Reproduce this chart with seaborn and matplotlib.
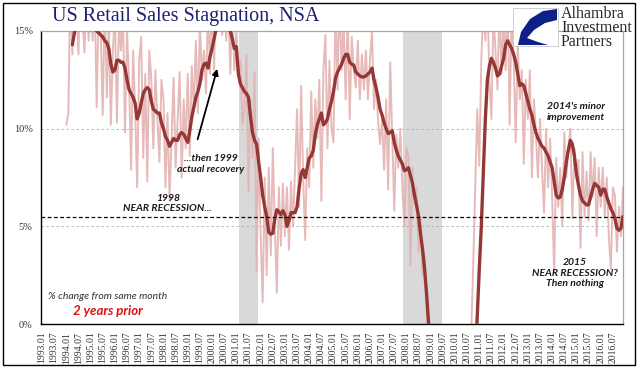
import numpy as np
import pandas as pd
import matplotlib.pyplot as plt
import matplotlib.patches as mpatches
import seaborn as sns

# ================= DATA =================
# % change from same month 2 years prior, monthly, NSA
raw_start = "1994.01"
raw_growth = [
    10.2, 10.8, 17.5, 13.8, 17.0, 16.5, 13.8, 18.0, 15.5, 13.9, 17.5, 14.5,   # 1994
    16.8, 14.5, 17.0, 11.1, 16.5, 15.0, 10.7, 16.8, 11.6, 15.5, 10.2, 14.0,   # 1995
    16.0, 10.3, 15.5, 14.0, 15.8, 9.8, 15.0, 12.5, 7.9, 14.0, 11.0, 7.0,      # 1996
    13.5, 14.7, 8.5, 12.8, 7.3, 14.0, 12.5, 9.0, 13.0, 10.5, 8.3, 12.5,       # 1997
    11.5, 7.0, 10.8, 6.4, 9.5, 12.6, 8.0, 10.5, 12.9, 7.5, 11.5, 9.0,         # 1998
    12.8, 8.6, 13.2, 11.0, 14.5, 10.8, 15.5, 12.5, 14.0, 11.8, 16.5, 12.8,    # 1999
    17.0, 13.0, 18.0, 15.5, 17.5, 14.8, 18.0, 14.5, 16.8, 12.8, 16.5, 13.0,   # 2000
    15.0, 12.8, 13.5, 10.2, 11.0, 13.8, 6.8, 11.5, 8.5, 12.9, 2.7, 9.5,       # 2001
    4.5, 1.1, 7.5, 2.5, 8.0, 3.5, 9.0, 5.0, 1.6, 7.0, 4.0, 7.2,               # 2002
    4.5, 7.0, 3.8, 7.3, 5.0, 8.0, 11.0, 6.0, 12.2, 7.5, 4.3, 9.0,             # 2003
    7.0, 11.9, 8.0, 11.5, 9.5, 12.5, 6.3, 13.0, 14.8, 9.0, 13.5, 10.0,        # 2004
    9.3, 16.5, 12.0, 17.0, 13.0, 15.5, 11.5, 16.0, 10.5, 14.7, 13.0, 12.1,    # 2005
    14.5, 11.5, 13.8, 12.0, 14.0, 11.5, 13.5, 15.0, 11.0, 12.5, 10.4, 9.2,    # 2006
    10.5, 7.9, 11.5, 6.9, 13.4, 9.5, 5.8, 9.7, 8.0, 10.0, 7.0, 5.0,           # 2007
    9.0, 8.6, 3.0, 8.0, 6.1, 7.0, 3.7, 5.5, 2.5, 3.5, 0.5, -2.0,              # 2008
    -4.0, -6.0, -9.0, -10.0, -12.0, -11.0, -13.0, -12.0, -12.0, -11.0, -12.0, -10.0,  # 2009
    -9.0, -10.0, -7.0, -8.0, -5.0, -6.0, -3.0, -4.0, -0.5, 3.0, 7.1, 11.0,    # 2010
    8.1, 13.5, 16.5, 14.5, 17.0, 12.5, 10.5, 16.0, 14.0, 12.0, 16.5, 12.8,    # 2011
    16.0, 13.0, 17.0, 10.2, 16.0, 13.5, 9.3, 14.5, 11.5, 13.0, 8.2, 12.5,     # 2012
    10.5, 13.0, 7.5, 11.5, 9.7, 7.5, 10.5, 8.0, 5.7, 10.0, 7.0, 9.5,          # 2013
    6.5, 2.6, 8.5, 6.0, 8.0, 5.0, 9.8, 7.5, 9.0, 10.0, 5.4, 9.0,              # 2014
    7.5, 8.4, 3.9, 8.8, 5.5, 7.8, 5.3, 8.8, 6.5, 8.5, 4.5, 8.0,               # 2015
    6.0, 8.0, 5.5, 7.5, 4.5, 2.8, 7.0, 6.6, 3.7, 6.0, 4.5, 7.0,               # 2016
]

smooth_start = "1994.04"
smooth_growth = [
    14.3, 14.9, 15.4, 15.8, 16.0, 16.2, 16.0, 15.9, 15.7,                     # 1994 (Apr-Dec)
    15.5, 15.3, 15.2, 15.0, 14.9, 14.8, 14.7, 14.5, 14.4, 14.1, 13.3, 12.9,   # 1995
    13.0, 13.5, 13.5, 13.4, 13.4, 13.1, 12.5, 12.0, 11.8, 11.6, 11.3, 10.5,   # 1996
    10.8, 11.3, 11.8, 12.0, 12.1, 12.0, 11.4, 11.0, 10.9, 10.8, 10.8, 10.3,   # 1997
    10.0, 9.6, 9.4, 9.1, 9.3, 9.5, 9.4, 9.4, 9.7, 9.8, 9.7, 9.5,              # 1998
    9.3, 9.9, 10.6, 11.1, 11.6, 11.9, 12.3, 13.0, 13.3, 13.35, 13.1, 13.7,    # 1999
    14.1, 14.6, 15.1, 15.6, 16.0, 16.2, 16.0, 15.6, 15.2, 15.0, 14.6, 14.1,   # 2000
    14.2, 12.8, 12.3, 12.1, 11.9, 11.8, 11.6, 10.6, 9.8, 9.4, 9.2, 8.3,       # 2001
    7.5, 6.6, 6.0, 5.5, 4.7, 4.6, 4.65, 5.4, 5.85, 5.75, 5.6, 5.8,            # 2002
    5.6, 5.0, 5.3, 5.7, 5.7, 5.7, 6.0, 6.95, 7.7, 7.9, 7.5, 8.0,              # 2003
    8.5, 8.6, 8.9, 9.7, 10.2, 10.5, 10.8, 10.2, 10.3, 10.5, 11.0, 11.4,       # 2004
    11.9, 12.6, 12.9, 13.1, 13.3, 13.6, 13.8, 13.8, 13.4, 13.3, 13.25, 12.9,  # 2005
    12.8, 12.7, 12.65, 12.65, 12.7, 12.8, 12.9, 13.1, 12.5, 12.1, 11.6, 11.0, # 2006
    10.7, 10.3, 10.0, 9.75, 9.8, 9.9, 9.3, 8.9, 8.6, 8.4, 8.2, 7.85,          # 2007
    7.9, 8.0, 7.6, 7.2, 6.6, 6.1, 5.5, 4.6, 3.8, 2.8, 1.5, 0.0,               # 2008
    -1.6, -3.2, -4.8, -6.3, -7.6, -8.8, -9.8, -10.5, -11.0, -11.2, -11.0, -10.5,  # 2009
    -9.8, -9.2, -8.6, -8.0, -7.4, -6.8, -6.2, -5.6, -5.0, -4.0, -1.8, 0.4,    # 2010
    2.8, 5.0, 7.8, 10.5, 12.5, 13.2, 13.6, 13.4, 13.1, 12.7, 12.8, 13.2,      # 2011
    13.6, 14.3, 14.5, 14.3, 14.1, 13.8, 13.4, 12.8, 12.2, 12.3, 12.2, 11.8,   # 2012
    11.4, 11.0, 10.7, 10.2, 9.8, 9.5, 9.3, 9.1, 9.0, 8.8, 8.6, 8.3,           # 2013
    8.0, 7.3, 6.6, 6.45, 6.5, 6.9, 7.5, 8.3, 8.9, 9.4, 9.2, 8.6,              # 2014
    7.7, 7.1, 6.6, 6.3, 6.2, 6.1, 6.1, 6.5, 6.9, 7.2, 7.1, 7.0,               # 2015
    6.6, 6.9, 6.9, 6.5, 6.2, 5.9, 5.7, 5.4, 4.9, 4.8, 4.9, 5.5,               # 2016
]

axis_start = "1993.01"
axis_end = "2016.12"
recession_start = ["2001.03", "2007.12"]
recession_end = ["2001.11", "2009.06"]
threshold = 5.5
y_ticks = [0, 5, 10, 15]


def month_index(label):
    y, m = label.split(".")
    return (int(y) - int(axis_start[:4])) * 12 + int(m) - 1


n_months = month_index(axis_end) + 1
labels = [f"{1993 + i // 12}.{i % 12 + 1:02d}" for i in range(n_months)]

df = pd.DataFrame({"idx": np.arange(n_months), "month": labels})
df["raw"] = np.nan
df["smooth"] = np.nan
r0 = month_index(raw_start)
s0 = month_index(smooth_start)
df.loc[r0:r0 + len(raw_growth) - 1, "raw"] = raw_growth
df.loc[s0:s0 + len(smooth_growth) - 1, "smooth"] = smooth_growth

# ================= PLOT =================
sns.set_style("white")
plt.rcParams["font.family"] = ["Liberation Serif", "DejaVu Serif"]

W, H = 641, 375
fig = plt.figure(figsize=(W / 100, H / 100), dpi=100)
ax = fig.add_axes([41 / W, 1 - 324 / H, (623 - 41) / W, (324 - 31) / H])

for a, b in zip(recession_start, recession_end):
    ax.axvspan(month_index(a) - 0.7, month_index(b) + 0.7, color="#d9d9d9", lw=0, zorder=0)

for v in [5, 10]:
    ax.axhline(v, color="#b0b0b0", lw=0.6, ls=(0, (3, 3)), zorder=1)
ax.axhline(threshold, color="black", lw=0.9, ls=(0, (3, 2)), zorder=4)

sns.lineplot(data=df, x="idx", y="raw", ax=ax, color="#e4b3b2", lw=1.4,
             alpha=0.9, zorder=2, estimator=None)
sns.lineplot(data=df, x="idx", y="smooth", ax=ax, color="#953735", lw=2.4,
             zorder=3, estimator=None)

ax.set_xlim(-0.5, n_months - 1)
ax.set_ylim(0, 15)
tick_idx = list(range(0, n_months, 6))
ax.set_xticks(tick_idx)
ax.set_xticklabels([labels[i] for i in tick_idx], rotation=90, fontsize=7, color="#333333")
ax.set_yticks(y_ticks)
ax.set_yticklabels([f"{v}%" for v in y_ticks], fontsize=7.5, color="#333333")
ax.tick_params(axis="both", direction="out", length=4, width=0.8, color="black", pad=2)
ax.tick_params(axis="x", pad=1.5)
ax.set_xlabel("")
ax.set_ylabel("")
for side in ["left", "bottom"]:
    ax.spines[side].set_color("black")
    ax.spines[side].set_linewidth(1.0)
for side in ["top", "right"]:
    ax.spines[side].set_color("#a6a6a6")
    ax.spines[side].set_linewidth(0.9)

# ================= ANNOTATIONS =================
note = dict(family=["Lato", "DejaVu Sans"], style="italic", weight="bold",
            color="#1a1a1a", fontsize=7.5, ha="center", va="center", linespacing=1.25)
ax.text(62.2, 6.17, "1998\nNEAR RECESSION...", **note)
ax.text(83.5, 8.2, "...then 1999\nactual recovery", **note)
ax.text(263.7, 10.85, "2014's minor\nimprovement", **note)
ax.text(263.2, 2.6, "2015\nNEAR RECESSION?\nThen nothing", **note)
ax.annotate("", xy=(86.9, 13.2), xytext=(76.5, 9.32),
            arrowprops=dict(arrowstyle="-|>", color="black", lw=1.3, mutation_scale=9))
ax.text(3, 1.43, "% change from same month", family=["Lato", "DejaVu Sans"],
        style="italic", color="#333333", fontsize=7.5, ha="left", va="center")
ax.text(32.6, 0.67, "2 years prior", family=["Lato", "DejaVu Sans"], style="italic",
        weight="bold", color="#e01010", fontsize=9.5, ha="center", va="center")

fig.text(52 / W, 1 - 17 / H, "US Retail Sales Stagnation, NSA", fontsize=14.5,
         color="#1c2070", ha="left", va="center")

# logo
def px(x, y):
    return (x / W, 1 - y / H)

fig.patches.append(mpatches.Rectangle(px(513, 46), 45 / W, 38 / H, transform=fig.transFigure,
                                      facecolor="white", edgecolor="#c8c8c8", lw=0.6, zorder=5))
swoosh = [px(518, 45), px(521, 32), px(530, 19), px(543, 11), px(557, 9), px(557, 20),
          px(545, 23), px(534, 30), px(527, 38), px(538, 42), px(548, 45)]
fig.patches.append(mpatches.Polygon(swoosh, closed=True, transform=fig.transFigure,
                                    facecolor="#0f1f8a", edgecolor="none", zorder=6))
fig.text(561 / W, 1 - 28 / H, "Alhambra\nInvestment\nPartners", fontsize=11.5,
         color="#2a2a2a", ha="left", va="center", linespacing=0.85)

# frame around whole picture
fig.patches.append(mpatches.Rectangle(px(3, 365), 632 / W, 362 / H, transform=fig.transFigure,
                                      facecolor="none", edgecolor="black", lw=1.0, zorder=10))

fig.savefig("out.png", dpi=100)
